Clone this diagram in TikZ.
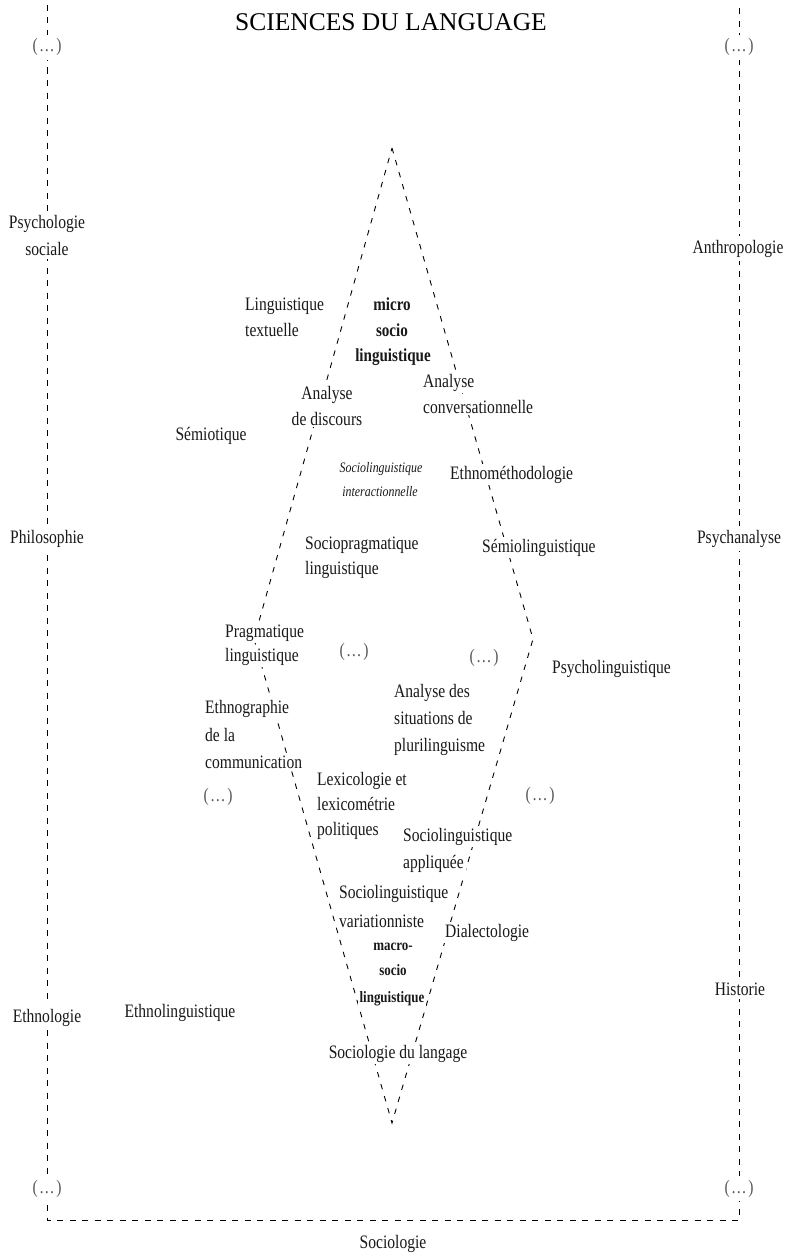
\documentclass[tikz,border=0pt]{standalone}
\usepackage{fontspec}
\setmainfont{Liberation Serif}[FakeStretch=0.82]
\newfontfamily\titlefont{Liberation Serif}
\newcommand{\ellip}{(\kern0.08em…\kern0.08em)}
\begin{document}
\begin{tikzpicture}[x=1pt,y=-1pt,
  lab/.style={fill=white, inner sep=2pt, text=black!90, font=\fontsize{19}{26}\selectfont},
  labw/.style={lab, anchor=base west},
  labc/.style={lab, anchor=base},
  outerlab/.style={labc, inner ysep=4pt},
  ital/.style={font=\fontsize{14.5}{20}\selectfont\itshape},
  boldbig/.style={font=\fontsize{18.4}{26}\selectfont\bfseries},
  boldsmall/.style={font=\fontsize{15.8}{26}\selectfont\bfseries},
  dotsl/.style={text=black!65},
  border/.style={line width=0.9pt, dash pattern=on 6pt off 6.5pt},
  diam/.style={line width=0.9pt, dash pattern=on 5.5pt off 7pt}
]
\useasboundingbox (0,0) rectangle (786,1255);

% frame
\coordinate (TL) at (47,5);
\coordinate (BL) at (47,1220);
\coordinate (BR) at (739,1220);
\coordinate (TR) at (739,5);
\draw[border] (TL) -- (BL) -- (BR) -- (TR);

% diamond
\coordinate (A) at (392,148);
\coordinate (R) at (533,639);
\coordinate (B) at (392,1123);
\coordinate (L) at (254,639);
\draw[diam] (A) -- (R) -- (B) -- (L) -- cycle;

% title and outer labels
\node[anchor=base, font=\titlefont\fontsize{25.5}{30}\selectfont] (title) at (391,31) {SCIENCES DU LANGUAGE};

\node[outerlab, dotsl] (ldotsT) at (47,52) {\ellip};
\node[outerlab] (psy1) at (47,228) {Psychologie};
\node[outerlab] (psy2) at (47,255) {sociale};
\node[outerlab] (philo) at (47,543) {Philosophie};
\node[outerlab] (ethnol) at (47,1022) {Ethnologie};
\node[outerlab, dotsl] (ldotsB) at (47,1193) {\ellip};

\node[outerlab, dotsl] (rdotsT) at (739,52) {\ellip};
\node[outerlab] (anthro) at (738,253) {Anthropologie};
\node[outerlab] (psychan) at (739,543) {Psychanalyse};
\node[outerlab] (hist) at (740,995) {Historie};
\node[outerlab, dotsl] (rdotsB) at (739,1193) {\ellip};

\node[labc] (sociologie) at (393,1248) {Sociologie};

% inner labels
\node[labw] (lt1) at (243,310) {Linguistique};
\node[labw] (lt2) at (243,336) {textuelle};

\node[labc, boldbig] (mic1) at (392,310) {micro};
\node[labc, boldbig] (mic2) at (392,336) {socio};
\node[labc, boldbig] (mic3) at (393,361) {linguistique};

\node[labc] (ad1) at (327,399) {Analyse};
\node[labc] (ad2) at (327,425) {de discours};

\node[labw] (ac1) at (421,387) {Analyse};
\node[labw] (ac2) at (421,413) {conversationnelle};

\node[labc] (semiot) at (211,440) {Sémiotique};

\node[labc, ital] (si1) at (381,472) {Sociolinguistique};
\node[labc, ital] (si2) at (380,496) {interactionnelle};

\node[labw] (ethm) at (448,479) {Ethnométhodologie};

\node[labw] (sp1) at (303,549) {Sociopragmatique};
\node[labw] (sp2) at (303,574) {linguistique};

\node[labw] (semiol) at (480,552) {Sémiolinguistique};

\node[labw] (pr1) at (223,637) {Pragmatique};
\node[labw] (pr2) at (223,661) {linguistique};

\node[labc, dotsl] (dots1) at (354,656) {\ellip};
\node[labc, dotsl] (dots2) at (484,662) {\ellip};

\node[labw] (psyl) at (550,673) {Psycholinguistique};

\node[labw] (as1) at (392,697) {Analyse des};
\node[labw] (as2) at (392,724) {situations de};
\node[labw] (as3) at (392,751) {plurilinguisme};

\node[labw] (eg1) at (203,713) {Ethnographie};
\node[labw] (eg2) at (203,741) {de la};
\node[labw] (eg3) at (203,768) {communication};

\node[labc, dotsl] (dots3) at (218,801) {\ellip};

\node[labw] (lx1) at (315,785) {Lexicologie et};
\node[labw] (lx2) at (315,810) {lexicométrie};
\node[labw] (lx3) at (315,835) {politiques};

\node[labc, dotsl] (dots4) at (540,800) {\ellip};

\node[labw] (sa1) at (401,841) {Sociolinguistique};
\node[labw] (sa2) at (401,868) {appliquée};

\node[labw] (sv1) at (337,898) {Sociolinguistique};
\node[labw] (sv2) at (337,927) {variationniste};

\node[labw] (dial) at (443,937) {Dialectologie};

\node[labc, boldsmall] (mac1) at (393,950) {macro-};
\node[labc, boldsmall] (mac2) at (393,975) {socio};
\node[labc, boldsmall] (mac3) at (392,1002) {linguistique};

\node[labc] (sl) at (398,1058) {Sociologie du langage};

\node[labc] (ethnoling) at (180,1017) {Ethnolinguistique};
\end{tikzpicture}
\end{document}
